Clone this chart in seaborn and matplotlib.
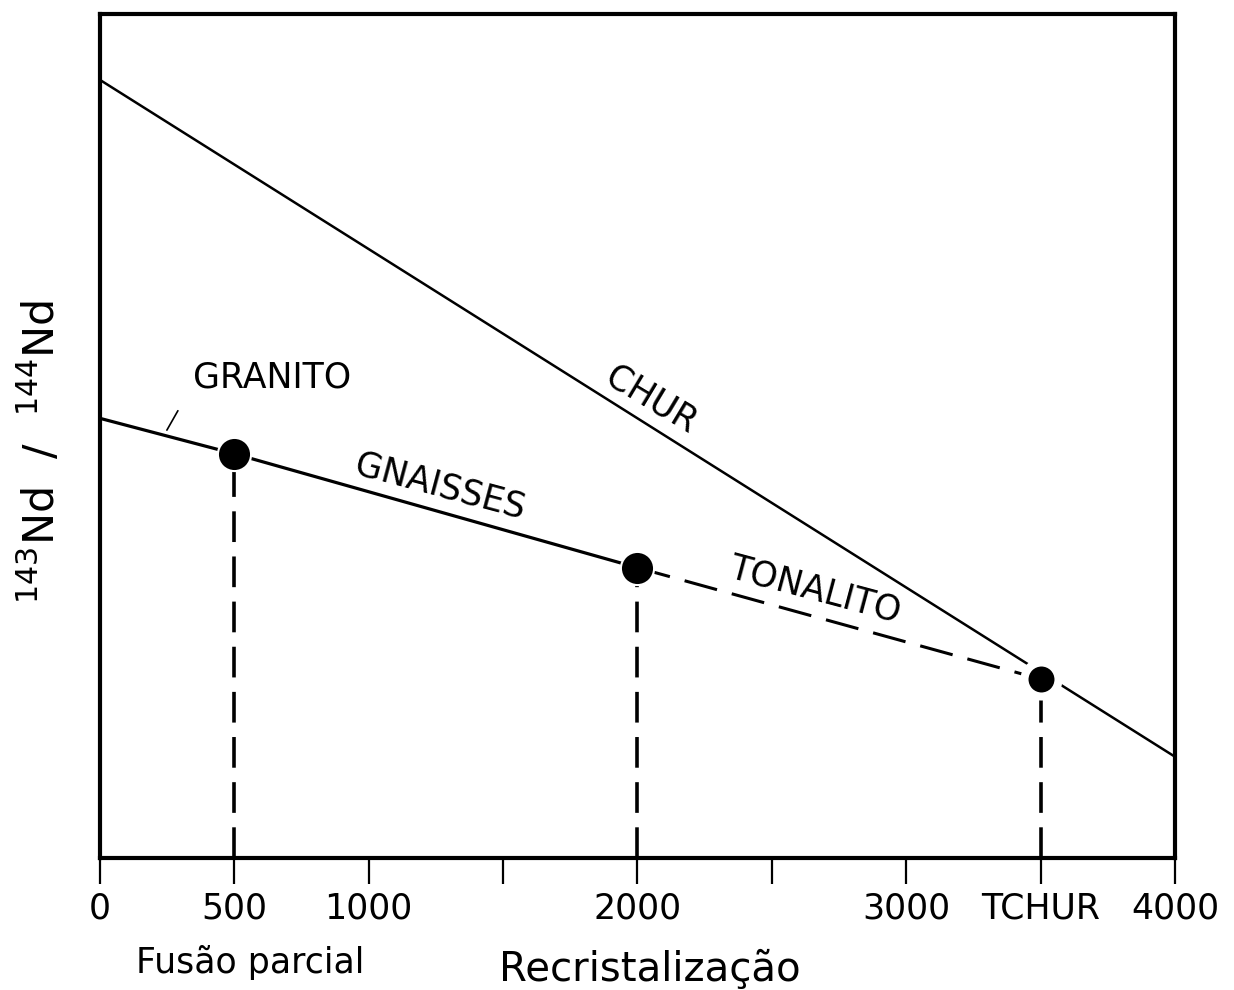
import matplotlib
matplotlib.use('Agg')
import matplotlib.pyplot as plt
import seaborn as sns
import pandas as pd
from matplotlib.transforms import blended_transform_factory

# ---- data (y in arbitrary units) ----
chur_age = [0, 4000]
chur_ratio = [92.2, 12.0]
gneiss_age = [0, 500, 2000]
gneiss_ratio = [52.1, 47.9, 34.4]
tonalito_age = [2000, 3500]
tonalito_ratio = [34.4, 21.2]
point_age = [500, 2000]
point_ratio = [47.9, 34.4]
tchur_age = [3500]
tchur_ratio = [21.2]
tick_pos = [0, 500, 1000, 1500, 2000, 2500, 3000, 3500, 4000]
tick_labels = ['0', '500', '1000', '', '2000', '', '3000', 'TCHUR', '4000']

sns.set_theme(style='white')
plt.rcParams['font.family'] = ['DejaVu Sans']
plt.rcParams['mathtext.fontset'] = 'dejavusans'
plt.rcParams['text.color'] = 'black'
plt.rcParams['axes.labelcolor'] = 'black'

fig = plt.figure(figsize=(12.34, 9.90), dpi=100)
ax = fig.add_axes([0.0810, 0.1333, 0.8712, 0.8525])

chur_df = pd.DataFrame({'age': chur_age, 'ratio': chur_ratio})
gneiss_df = pd.DataFrame({'age': gneiss_age, 'ratio': gneiss_ratio})
ton_df = pd.DataFrame({'age': tonalito_age, 'ratio': tonalito_ratio})
pts_df = pd.DataFrame({'age': point_age, 'ratio': point_ratio})
tchur_df = pd.DataFrame({'age': tchur_age, 'ratio': tchur_ratio})

sns.lineplot(data=chur_df, x='age', y='ratio', ax=ax, color='black',
             lw=1.8, sort=False, estimator=None, zorder=2)
sns.lineplot(data=gneiss_df, x='age', y='ratio', ax=ax, color='black',
             lw=2.3, sort=False, estimator=None, zorder=2)
sns.lineplot(data=ton_df, x='age', y='ratio', ax=ax, color='black',
             lw=2.2, sort=False, estimator=None, zorder=2,
             linestyle=(0, (11, 5)))

# vertical dashed drop lines
all_age = point_age + tchur_age
all_ratio = point_ratio + tchur_ratio
ax.vlines(all_age, 0, all_ratio, colors='black', lw=2.6,
          linestyles=[(0, (8.5, 4))], zorder=1)

sns.scatterplot(data=pts_df, x='age', y='ratio', ax=ax, color='black',
                s=570, edgecolor='white', linewidth=1.5, zorder=4)
sns.scatterplot(data=tchur_df, x='age', y='ratio', ax=ax, color='black',
                s=600, edgecolor='white', linewidth=5.8, zorder=4)

ax.set_xlim(0, 4000)
ax.set_ylim(0, 100)
ax.set_xticks(tick_pos)
ax.set_xticklabels(tick_labels)
ax.set_yticks([])
ax.tick_params(axis='x', direction='out', length=19, width=1.6, pad=5,
               labelsize=25, colors='black', bottom=True)
for s in ax.spines.values():
    s.set_visible(True)
    s.set_linewidth(3)
    s.set_color('black')

ax.set_xlabel('')
ax.set_ylabel(r'$^{143}$Nd  /  $^{144}$Nd', fontsize=31, color='black')
ax.yaxis.set_label_coords(-0.033, 0.481)

# in-plot labels
ax.text(346, 56.9, 'GRANITO', fontsize=25, ha='left', va='center')
ax.annotate('', xy=(249, 50.7), xytext=(290, 53.0),
            arrowprops=dict(arrowstyle='-', color='black', lw=1.2,
                            shrinkA=0, shrinkB=0))
ax.text(2050, 54.3, 'CHUR', fontsize=25, rotation=-31, ha='center',
        va='center', rotation_mode='anchor')
ax.text(1265, 44.0, 'GNAISSES', fontsize=25, rotation=-15, ha='center',
        va='center', rotation_mode='anchor')
ax.text(2660, 31.75, 'TONALITO', fontsize=25, rotation=-15, ha='center',
        va='center', rotation_mode='anchor')

trans = blended_transform_factory(ax.transData, ax.transAxes)
ax.text(558, -0.1363, 'Fusão parcial', fontsize=25, ha='center',
        va='baseline', transform=trans)
ax.text(2047, -0.1457, 'Recristalização', fontsize=29, ha='center',
        va='baseline', transform=trans)

fig.savefig('out.png', dpi=100)
